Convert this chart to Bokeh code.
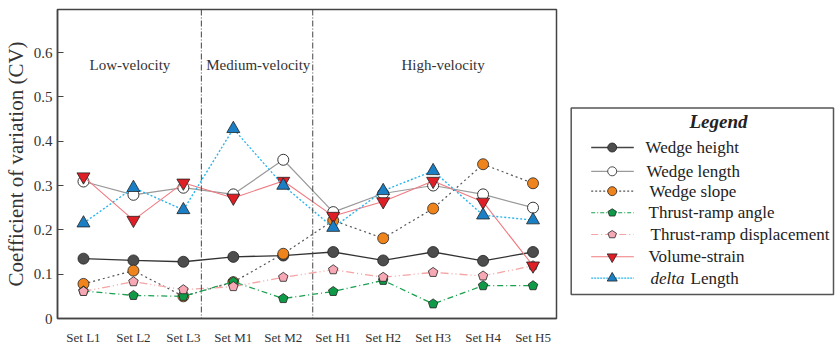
import math
from bokeh.plotting import figure
from bokeh.models import Range1d, FixedTicker, Span, Label
from bokeh.layouts import row
from bokeh.embed import file_html
from bokeh.resources import INLINE

# ---------------- data ----------------
sets = ["Set L1", "Set L2", "Set L3", "Set M1", "Set M2",
        "Set H1", "Set H2", "Set H3", "Set H4", "Set H5"]
wedge_height = [0.135, 0.131, 0.128, 0.139, 0.142, 0.150, 0.131, 0.150, 0.130, 0.150]
wedge_length = [0.309, 0.279, 0.295, 0.280, 0.358, 0.240, 0.282, 0.300, 0.280, 0.250]
wedge_slope = [0.078, 0.108, 0.050, 0.082, 0.146, 0.221, 0.181, 0.248, 0.348, 0.305]
thrust_angle = [0.062, 0.052, 0.050, 0.083, 0.045, 0.061, 0.086, 0.033, 0.074, 0.074]
thrust_disp = [0.061, 0.083, 0.065, 0.072, 0.093, 0.110, 0.093, 0.104, 0.096, 0.119]
volume_strain = [0.320, 0.222, 0.306, 0.272, 0.310, 0.231, 0.264, 0.310, 0.263, 0.119]
delta_length = [0.215, 0.295, 0.245, 0.428, 0.300, 0.205, 0.288, 0.333, 0.233, 0.222]
y_ticks = [0, 0.1, 0.2, 0.3, 0.4, 0.5, 0.6]
y_tick_labels = ["0", "0.1", "0.2", "0.3", "0.4", "0.5", "0.6"]
regions = ["Low-velocity", "Medium-velocity", "High-velocity"]
region_x = [0.93, 3.50, 7.20]
region_y = 0.571
dividers = [2.36, 4.59]
legend_labels = ["Wedge height", "Wedge length", "Wedge slope", "Thrust-ramp angle",
                 "Thrust-ramp displacement", "Volume-strain"]

SERIF = "Liberation Serif"
xs = list(range(len(sets)))

X0, X1 = -0.52, 9.47
Y0, Y1 = 0.0, 0.697
FW, FH = 501, 310  # frame size in px
sx = FW / (X1 - X0)
sy = FH / (Y1 - Y0)


def pentagons(px, py, r, kx, ky, flip=False):
    pxs, pys = [], []
    for x, y in zip(px, py):
        vx, vy = [], []
        for k in range(5):
            a = math.radians(90 + 72 * k)
            vx.append(x + r * math.cos(a) / kx)
            dy = r * math.sin(a) / ky
            vy.append(y - dy if flip else y + dy)
        pxs.append(vx)
        pys.append(vy)
    return pxs, pys


p = figure(width=558, height=347, x_range=Range1d(X0, X1), y_range=Range1d(Y0, Y1),
           toolbar_location=None, output_backend="svg",
           min_border_left=55, min_border_right=2, min_border_top=9, min_border_bottom=28)
p.grid.visible = False
p.outline_line_color = "#444444"
p.outline_line_width = 1.5

p.xaxis.ticker = FixedTicker(ticks=xs)
p.xaxis.major_label_overrides = {i: s for i, s in enumerate(sets)}
p.xaxis.major_tick_out = 0
p.xaxis.major_tick_in = 0
p.xaxis.minor_tick_line_color = None
p.xaxis.major_label_standoff = 11
p.xaxis.axis_line_color = "#444444"
p.xaxis.axis_line_width = 1.5

p.yaxis.ticker = FixedTicker(ticks=y_ticks)
p.yaxis.major_label_overrides = {t: l for t, l in zip(y_ticks, y_tick_labels)}
p.yaxis.major_tick_out = 0
p.yaxis.major_tick_in = 6
p.yaxis.major_tick_line_color = "#444444"
p.yaxis.minor_tick_line_color = None
p.yaxis.major_label_standoff = 5
p.yaxis.axis_line_color = "#444444"
p.yaxis.axis_line_width = 1.5
p.yaxis.axis_label = "Coefficient of variation (CV)"
p.yaxis.axis_label_standoff = 3

p.xaxis.major_label_text_font = SERIF
p.yaxis.major_label_text_font = SERIF
p.xaxis.major_label_text_color = "#333333"
p.yaxis.major_label_text_color = "#333333"
p.xaxis.major_label_text_font_size = "13px"
p.yaxis.major_label_text_font_size = "15px"
p.yaxis.axis_label_text_font = SERIF
p.yaxis.axis_label_text_font_style = "normal"
p.yaxis.axis_label_text_font_size = "21px"
p.yaxis.axis_label_text_color = "#333333"

for d in dividers:
    p.add_layout(Span(location=d, dimension="height", line_color="#444444",
                      line_width=1, line_dash="6 2 1 2"))
for t, rx in zip(regions, region_x):
    p.add_layout(Label(x=rx, y=region_y, text=t, text_align="center", text_baseline="middle",
                       text_font=SERIF, text_font_size="15px", text_color="#333333"))

OUT = "#222222"
# Wedge height
p.line(xs, wedge_height, line_color="#333333", line_width=1.3)
p.scatter(xs, wedge_height, marker="circle", size=11, fill_color="#4d4d4d", line_color=OUT, line_width=0.8)
# Wedge length
p.line(xs, wedge_length, line_color="#9a9a9a", line_width=1.2)
p.scatter(xs, wedge_length, marker="circle", size=11, fill_color="white", line_color=OUT, line_width=0.9)
# Wedge slope
p.line(xs, wedge_slope, line_color="#555555", line_width=1.2, line_dash="2 3")
p.scatter(xs, wedge_slope, marker="circle", size=11, fill_color="#f0841c", line_color=OUT, line_width=0.8)
# Thrust-ramp angle
p.line(xs, thrust_angle, line_color="#1aa050", line_width=1.3, line_dash="6 3 1 3")
ax_, ay_ = pentagons(xs, thrust_angle, 5, sx, sy)
p.patches(ax_, ay_, fill_color="#0f9a48", line_color=OUT, line_width=0.8)
# Thrust-ramp displacement
p.line(xs, thrust_disp, line_color="#f4a4a4", line_width=1.3, line_dash="8 3 1 3 1 3")
dx_, dy_ = pentagons(xs, thrust_disp, 5, sx, sy)
p.patches(dx_, dy_, fill_color="#f6a8b4", line_color=OUT, line_width=0.8)
# Volume-strain
p.line(xs, volume_strain, line_color="#f07a80", line_width=1.1)
p.scatter(xs, volume_strain, marker="inverted_triangle", size=13, fill_color="#e01e26", line_color=OUT, line_width=0.8)
# delta Length
p.line(xs, delta_length, line_color="#2ab4ee", line_width=1.4, line_dash="2 2")
p.scatter(xs, delta_length, marker="triangle", size=13, fill_color="#1b7fc6", line_color=OUT, line_width=0.8)

# ---------------- legend panel ----------------
LW, LH = 277, 347
q = figure(width=LW, height=LH, x_range=Range1d(0, LW), y_range=Range1d(LH, 0),
           toolbar_location=None, output_backend="svg", min_border=0,
           x_axis_location=None, y_axis_location=None)
q.grid.visible = False
q.outline_line_color = None
q.quad(left=[12.7], right=[275], top=[110.7], bottom=[320], fill_color=None,
       line_color="#555555", line_width=1.5)
q.add_layout(Label(x=160, y=126, text="Legend", text_align="center", text_baseline="middle",
                   text_font=SERIF, text_font_style="bold italic", text_font_size="19px",
                   text_color="#222222"))

item_y = [155, 181.7, 204, 228.3, 252.7, 277.7, 301.7]
text_x = [87, 88, 91, 90, 92, 90]
lx0, lx1, mx = 32.7, 75.3, 53.7
styles = [
    dict(line_color="#444444", line_width=1.6),
    dict(line_color="#9a9a9a", line_width=1.2),
    dict(line_color="#555555", line_width=1.1, line_dash="2 2"),
    dict(line_color="#1aa050", line_width=1.1, line_dash="4 2 1 2"),
    dict(line_color="#f4a4a4", line_width=1.1, line_dash="7 3 1 3"),
    dict(line_color="#f07a80", line_width=1.1),
    dict(line_color="#2ab4ee", line_width=1.3, line_dash="2 1"),
]
for yy, st in zip(item_y, styles):
    q.line([lx0, lx1], [yy, yy], **st)
q.scatter([mx], [item_y[0]], marker="circle", size=9, fill_color="#4d4d4d", line_color=OUT, line_width=0.8)
q.scatter([mx], [item_y[1]], marker="circle", size=9, fill_color="white", line_color=OUT, line_width=0.8)
q.scatter([mx], [item_y[2]], marker="circle", size=9, fill_color="#f0841c", line_color=OUT, line_width=0.8)
gx, gy = pentagons([mx], [item_y[3]], 4.5, 1, 1, flip=True)
q.patches(gx, gy, fill_color="#0f9a48", line_color=OUT, line_width=0.8)
kx, ky = pentagons([mx], [item_y[4]], 4.5, 1, 1, flip=True)
q.patches(kx, ky, fill_color="#f6a8b4", line_color=OUT, line_width=0.8)
q.scatter([mx], [item_y[5]], marker="inverted_triangle", size=10, fill_color="#e01e26", line_color=OUT, line_width=0.8)
q.scatter([mx], [item_y[6]], marker="triangle", size=10, fill_color="#1b7fc6", line_color=OUT, line_width=0.8)

for tx, ty, lab in zip(text_x, item_y[:6], legend_labels):
    q.add_layout(Label(x=tx, y=ty, text=lab, text_baseline="middle", text_font=SERIF,
                       text_font_size="17px", text_color="#222222"))
q.add_layout(Label(x=92, y=item_y[6], text="delta", text_baseline="middle", text_font=SERIF,
                   text_font_style="italic", text_font_size="17px", text_color="#222222"))
q.add_layout(Label(x=132, y=item_y[6], text="Length", text_baseline="middle", text_font=SERIF,
                   text_font_size="17px", text_color="#222222"))

layout = row(p, q)
open("out.html", "w").write(file_html(layout, INLINE))
